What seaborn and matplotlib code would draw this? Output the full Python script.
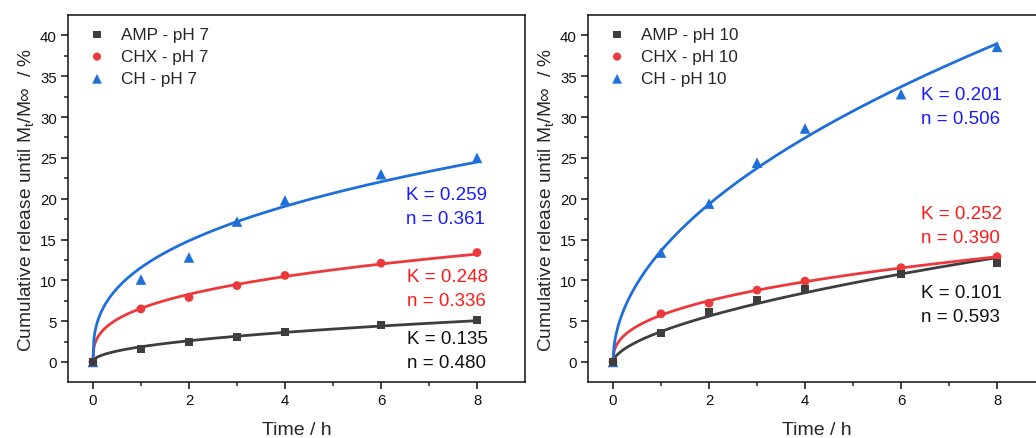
import numpy as np
import pandas as pd
import matplotlib
matplotlib.use("Agg")
import matplotlib.pyplot as plt
import seaborn as sns

# ---------------- data ----------------
time_h = [0, 1, 2, 3, 4, 6, 8]

amp_ph7 = [0, 1.6, 2.5, 3.1, 3.7, 4.5, 5.1]
chx_ph7 = [0, 6.5, 7.9, 9.35, 10.6, 12.1, 13.4]
ch_ph7 = [0, 10.1, 12.8, 17.2, 19.8, 23.0, 25.0]

amp_ph10 = [0, 3.5, 6.1, 7.6, 8.95, 10.75, 12.1]
chx_ph10 = [0, 5.9, 7.2, 8.8, 9.9, 11.55, 12.9]
ch_ph10 = [0, 13.4, 19.4, 24.4, 28.6, 32.8, 38.6]

# Korsmeyer-Peppas parameters shown on the chart
K_ph7 = {"AMP": 0.135, "CHX": 0.248, "CH": 0.259}
n_ph7 = {"AMP": 0.480, "CHX": 0.336, "CH": 0.361}
K_ph10 = {"AMP": 0.101, "CHX": 0.252, "CH": 0.201}
n_ph10 = {"AMP": 0.593, "CHX": 0.390, "CH": 0.506}

series_names = ["AMP", "CHX", "CH"]
x_ticks = [0, 2, 4, 6, 8]
y_ticks = [0, 5, 10, 15, 20, 25, 30, 35, 40]

# ---------------- style ----------------
sns.set_style("ticks")
plt.rcParams["font.family"] = ["Liberation Sans", "DejaVu Sans"]
plt.rcParams["mathtext.fontset"] = "custom"
plt.rcParams["mathtext.rm"] = "Liberation Sans"
plt.rcParams["mathtext.it"] = "Liberation Sans:italic"

colors = {"AMP": "#3e3e3e", "CHX": "#ec3a3c", "CH": "#1f6fdb"}
text_colors = {"AMP": "#111111", "CHX": "#ff1a1a", "CH": "#1a1aff"}
markers = {"AMP": "s", "CHX": "o", "CH": "^"}
sizes = {"AMP": 34, "CHX": 40, "CH": 58}

fig = plt.figure(figsize=(10.36, 4.39), dpi=100)
ax1 = fig.add_axes([0.0656, 0.1276, 0.4412, 0.836])
ax2 = fig.add_axes([0.5676, 0.1276, 0.4412, 0.836])

panels = [
    (ax1, "pH 7", {"AMP": amp_ph7, "CHX": chx_ph7, "CH": ch_ph7}, K_ph7, n_ph7,
     {"AMP": (6.55, 2.9), "CHX": (6.55, 10.5), "CH": (6.52, 20.5)}),
    (ax2, "pH 10", {"AMP": amp_ph10, "CHX": chx_ph10, "CH": ch_ph10}, K_ph10, n_ph10,
     {"AMP": (6.42, 8.55), "CHX": (6.42, 18.2), "CH": (6.41, 32.8)}),
]

t = np.array(time_h, dtype=float)
t_fine = np.linspace(0, 8, 400)

for ax, ph, data, Ks, ns, txt_pos in panels:
    # fitted power-law curves (exponent n from chart, amplitude by least squares)
    for name in series_names:
        y = np.array(data[name], dtype=float)
        n = ns[name]
        A = np.sum(y * t ** n) / np.sum(t ** (2 * n))
        curve = pd.DataFrame({"t": t_fine, "y": A * t_fine ** n})
        sns.lineplot(data=curve, x="t", y="y", ax=ax, color=colors[name],
                     lw=2.0, estimator=None, sort=False, zorder=2)
    # markers
    for name in series_names[::-1]:
        df = pd.DataFrame({"t": time_h, "y": data[name]})
        sns.scatterplot(data=df, x="t", y="y", ax=ax, marker=markers[name],
                        color=colors[name], s=sizes[name], edgecolor="none",
                        linewidth=0, zorder=3)
    handles = []
    for name in series_names:
        h = ax.scatter([], [], marker=markers[name], color=colors[name],
                       s=sizes[name] * 0.85, edgecolor="none")
        handles.append(h)
    ax.legend(handles, [f"{nm} - {ph}" for nm in series_names],
              loc="upper left", frameon=False, fontsize=12.3,
              handletextpad=0.4, labelspacing=0.42,
              borderaxespad=0.3, bbox_to_anchor=(0.0, 1.0))
    # annotations
    for name in series_names:
        x0, y0 = txt_pos[name]
        ax.text(x0, y0, f"K = {Ks[name]:.3f}", color=text_colors[name],
                fontsize=13.5, ha="left", va="center")
        ax.text(x0, y0 - 2.95, f"n = {ns[name]:.3f}", color=text_colors[name],
                fontsize=13.5, ha="left", va="center")

    ax.set_xlim(-0.52, 9.0)
    ax.set_ylim(-2.45, 42.5)
    ax.set_xticks(x_ticks)
    ax.set_xticks(range(0, 9), minor=True)
    ax.set_yticks(y_ticks)
    ax.set_yticks(np.arange(0, 42.5, 2.5), minor=True)
    ax.tick_params(axis="both", which="major", direction="out", length=5,
                   width=1.1, labelsize=10.8, colors="#111111", pad=3)
    ax.tick_params(axis="both", which="minor", direction="out", length=3,
                   width=1.1)
    for sp in ax.spines.values():
        sp.set_visible(True)
        sp.set_linewidth(1.1)
        sp.set_color("#111111")
    ax.set_xlabel("Time / h", fontsize=14, labelpad=10)
    ax.set_ylabel("Cumulative release until M$_\\mathrm{t}$/M\u221e  / %",
                  fontsize=13.8, labelpad=3)

fig.savefig("out.png", dpi=100)
